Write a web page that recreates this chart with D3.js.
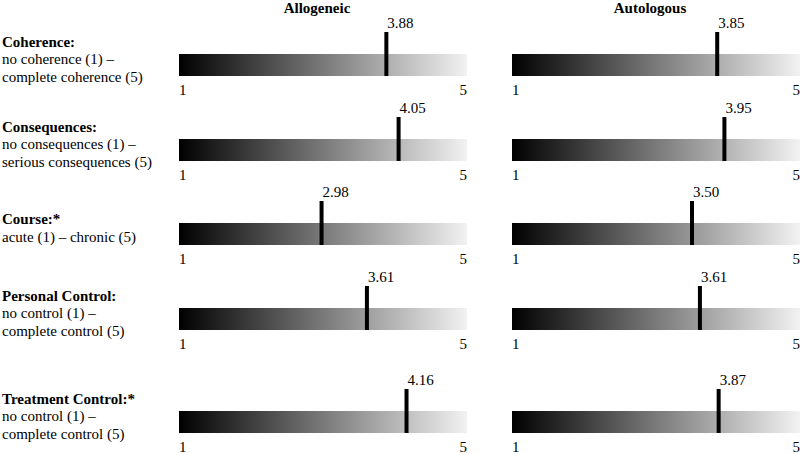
<!DOCTYPE html>
<html>
<head>
<meta charset="utf-8">
<script src="https://cdn.jsdelivr.net/npm/d3@7"></script>
<style>
  body { margin: 0; background: #fff; }
</style>
</head>
<body>
<div id="chart"></div>
<script>
// data
const groups = ["Allogeneic", "Autologous"];
const dimensions = ["Coherence", "Consequences", "Course", "Personal Control", "Treatment Control"];
const headings = ["Coherence:", "Consequences:", "Course:*", "Personal Control:", "Treatment Control:*"];
const anchors = [
    ["no coherence (1) \u2013", "complete coherence (5)"],
    ["no consequences (1) \u2013", "serious consequences (5)"],
    ["acute (1) \u2013 chronic (5)"],
    ["no control (1) \u2013", "complete control (5)"],
    ["no control (1) \u2013", "complete control (5)"]
];
const allogeneic = [3.88, 4.05, 2.98, 3.61, 4.16];
const autologous = [3.85, 3.95, 3.50, 3.61, 3.87];
const scaleTicks = [1, 5];

const width = 800, height = 454;
const barW = 288, barH = 22;
const barLeft = {Allogeneic: 179, Autologous: 512};
// top edge of each row's bar (last row sits a little lower)
const rowTop = [54, 139, 223, 308, 411];
const font = "Liberation Serif";

const svg = d3.select("#chart").append("svg")
    .attr("width", width)
    .attr("height", height)
    .attr("font-family", font);

const grad = svg.append("defs").append("linearGradient")
    .attr("id", "shade")
    .attr("x1", "0%").attr("x2", "100%")
    .attr("y1", "0%").attr("y2", "0%");
grad.append("stop").attr("offset", "0%").attr("stop-color", "#000");
grad.append("stop").attr("offset", "3%").attr("stop-color", "#080808");
grad.append("stop").attr("offset", "100%").attr("stop-color", "#f2f2f2");

const values = {Allogeneic: allogeneic, Autologous: autologous};

// column headings
groups.forEach(g => {
    svg.append("text")
        .attr("x", barLeft[g] + barW / 2 - 6)
        .attr("y", 13)
        .attr("text-anchor", "middle")
        .attr("font-family", font)
        .attr("font-weight", "bold")
        .attr("font-size", 15)
        .text(g);
});

dimensions.forEach((dim, i) => {
    let top = rowTop[i];
    let mid = top + barH / 2;

    // row label block, centred on the bar
    let lines = [headings[i]].concat(anchors[i]);
    let n = lines.length;
    lines.forEach((ln, k) => {
        svg.append("text")
            .attr("x", 2)
            .attr("y", mid - 1 + (k - (n - 1) / 2) * 17.5)
            .attr("font-family", font)
            .attr("font-size", 15)
            .attr("font-weight", k == 0 ? "bold" : "normal")
            .text(ln);
    });

    groups.forEach(g => {
        let x = d3.scaleLinear()
            .domain([1, 5])
            .range([barLeft[g], barLeft[g] + barW]);

        svg.append("rect")
            .attr("x", x(1))
            .attr("y", top)
            .attr("width", x(5) - x(1))
            .attr("height", barH)
            .attr("fill", "url(#shade)");

        // scale ends
        svg.selectAll(null)
            .data(scaleTicks)
            .enter().append("text")
            .attr("x", d => x(d))
            .attr("y", top + barH + 19)
            .attr("text-anchor", d => d == 5 ? "end" : "start")
            .attr("font-family", font)
            .attr("font-size", 15)
            .text(d => d);

        let v = values[g][i];
        svg.append("line")
            .attr("x1", x(v))
            .attr("x2", x(v))
            .attr("y1", top - 22)
            .attr("y2", top + barH)
            .style("stroke", "#000")
            .style("stroke-width", 4);

        svg.append("text")
            .attr("x", x(v) + 1)
            .attr("y", top - 26)
            .attr("font-family", font)
            .attr("font-size", 15)
            .text(v.toFixed(2));
    });
});
</script>
</body>
</html>
